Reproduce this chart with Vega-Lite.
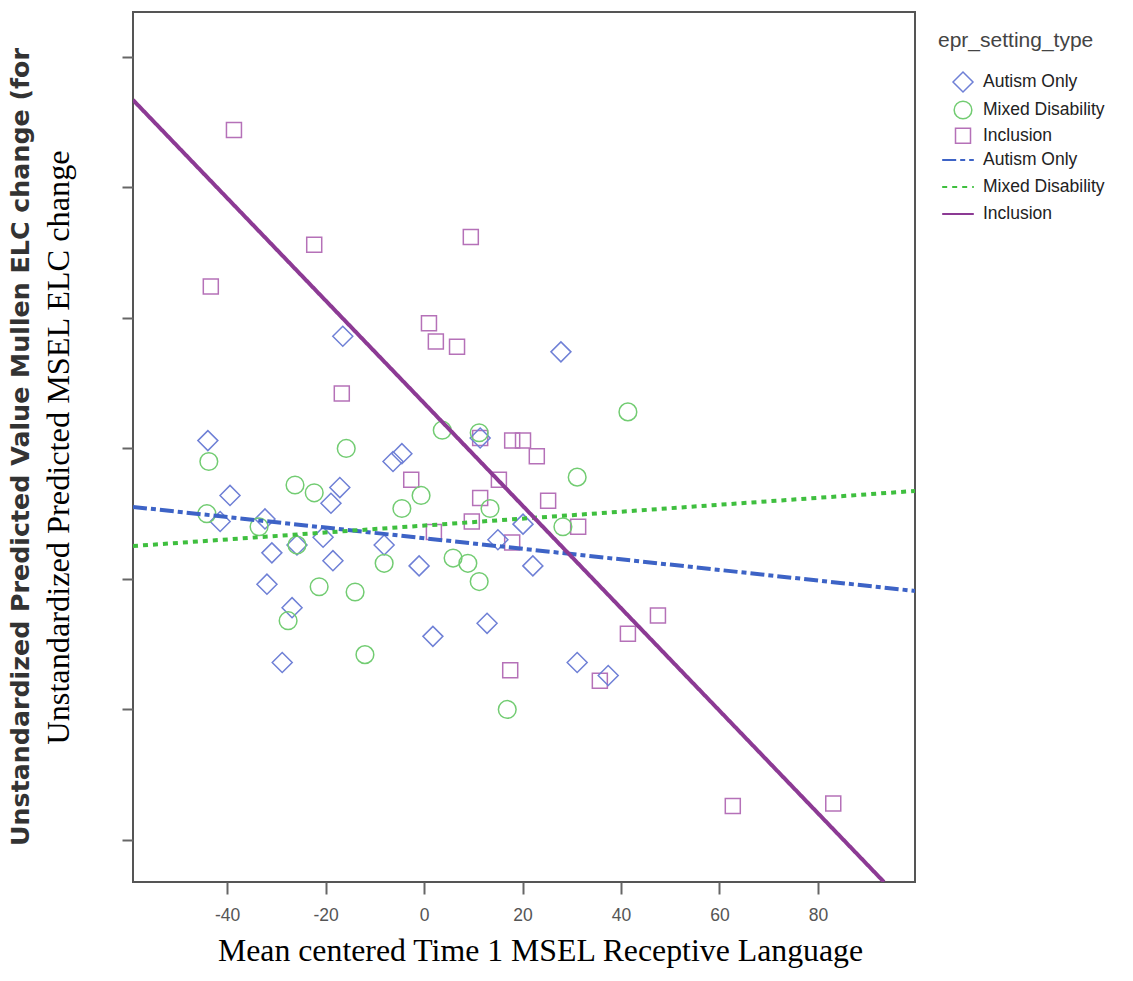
{
  "$schema": "https://vega.github.io/schema/vega-lite/v6.json",
  "width": 782,
  "height": 870,
  "autosize": {"type": "none"},
  "padding": {"left": 133, "top": 12, "right": 218, "bottom": 99},
  "background": "white",
  "title": {
    "text": "Unstandardized Predicted Value Mullen ELC change (for",
    "orient": "left",
    "anchor": "middle",
    "font": "DejaVu Sans",
    "fontWeight": "bold",
    "fontSize": 25.3,
    "color": "#333333",
    "offset": 8
  },
  "config": {
    "view": {"stroke": "#555555", "strokeWidth": 2},
    "legend": {
      "titleFont": "Liberation Sans",
      "titleFontSize": 21,
      "titleFontWeight": "normal",
      "titleColor": "#444444",
      "labelFont": "Liberation Sans",
      "labelFontSize": 17.5,
      "labelColor": "#222222",
      "symbolStrokeWidth": 1.5
    }
  },
  "datasets": {
    "points": [
      {"x": -38.6, "y": 27.2, "setting": "Inclusion"},
      {"x": -22.3, "y": 22.8, "setting": "Inclusion"},
      {"x": -43.3, "y": 21.2, "setting": "Inclusion"},
      {"x": 9.5, "y": 23.1, "setting": "Inclusion"},
      {"x": 1.0, "y": 19.8, "setting": "Inclusion"},
      {"x": 2.4, "y": 19.1, "setting": "Inclusion"},
      {"x": 6.7, "y": 18.9, "setting": "Inclusion"},
      {"x": -16.7, "y": 17.1, "setting": "Inclusion"},
      {"x": 11.4, "y": 15.4, "setting": "Inclusion"},
      {"x": 17.9, "y": 15.3, "setting": "Inclusion"},
      {"x": 20.1, "y": 15.3, "setting": "Inclusion"},
      {"x": 22.9, "y": 14.7, "setting": "Inclusion"},
      {"x": -2.6, "y": 13.8, "setting": "Inclusion"},
      {"x": 15.2, "y": 13.8, "setting": "Inclusion"},
      {"x": 11.4, "y": 13.1, "setting": "Inclusion"},
      {"x": 25.2, "y": 13.0, "setting": "Inclusion"},
      {"x": 9.7, "y": 12.2, "setting": "Inclusion"},
      {"x": 2.0, "y": 11.8, "setting": "Inclusion"},
      {"x": 17.9, "y": 11.4, "setting": "Inclusion"},
      {"x": 31.3, "y": 12.0, "setting": "Inclusion"},
      {"x": 17.5, "y": 6.5, "setting": "Inclusion"},
      {"x": 35.7, "y": 6.1, "setting": "Inclusion"},
      {"x": 41.4, "y": 7.9, "setting": "Inclusion"},
      {"x": 47.5, "y": 8.6, "setting": "Inclusion"},
      {"x": 62.7, "y": 1.3, "setting": "Inclusion"},
      {"x": 83.1, "y": 1.4, "setting": "Inclusion"},
      {"x": -43.9, "y": 15.3, "setting": "Autism Only"},
      {"x": -39.4, "y": 13.2, "setting": "Autism Only"},
      {"x": -41.4, "y": 12.2, "setting": "Autism Only"},
      {"x": -32.3, "y": 12.3, "setting": "Autism Only"},
      {"x": -30.9, "y": 11.0, "setting": "Autism Only"},
      {"x": -31.9, "y": 9.8, "setting": "Autism Only"},
      {"x": -26.8, "y": 8.9, "setting": "Autism Only"},
      {"x": -28.8, "y": 6.8, "setting": "Autism Only"},
      {"x": -16.5, "y": 19.3, "setting": "Autism Only"},
      {"x": -17.1, "y": 13.5, "setting": "Autism Only"},
      {"x": -18.9, "y": 12.9, "setting": "Autism Only"},
      {"x": -25.8, "y": 11.3, "setting": "Autism Only"},
      {"x": -20.5, "y": 11.6, "setting": "Autism Only"},
      {"x": -18.5, "y": 10.7, "setting": "Autism Only"},
      {"x": -6.3, "y": 14.5, "setting": "Autism Only"},
      {"x": -4.5, "y": 14.8, "setting": "Autism Only"},
      {"x": -8.1, "y": 11.3, "setting": "Autism Only"},
      {"x": -1.0, "y": 10.5, "setting": "Autism Only"},
      {"x": 1.8, "y": 7.8, "setting": "Autism Only"},
      {"x": 27.8, "y": 18.7, "setting": "Autism Only"},
      {"x": 11.4, "y": 15.4, "setting": "Autism Only"},
      {"x": 20.1, "y": 12.1, "setting": "Autism Only"},
      {"x": 15.0, "y": 11.5, "setting": "Autism Only"},
      {"x": 22.1, "y": 10.5, "setting": "Autism Only"},
      {"x": 12.8, "y": 8.3, "setting": "Autism Only"},
      {"x": 31.1, "y": 6.8, "setting": "Autism Only"},
      {"x": 37.4, "y": 6.3, "setting": "Autism Only"},
      {"x": -43.7, "y": 14.5, "setting": "Mixed Disability"},
      {"x": -15.8, "y": 15.0, "setting": "Mixed Disability"},
      {"x": -26.2, "y": 13.6, "setting": "Mixed Disability"},
      {"x": -22.3, "y": 13.3, "setting": "Mixed Disability"},
      {"x": -44.1, "y": 12.5, "setting": "Mixed Disability"},
      {"x": -33.5, "y": 12.0, "setting": "Mixed Disability"},
      {"x": -25.8, "y": 11.3, "setting": "Mixed Disability"},
      {"x": -0.6, "y": 13.2, "setting": "Mixed Disability"},
      {"x": -4.5, "y": 12.7, "setting": "Mixed Disability"},
      {"x": -8.1, "y": 10.6, "setting": "Mixed Disability"},
      {"x": -21.3, "y": 9.7, "setting": "Mixed Disability"},
      {"x": -14.0, "y": 9.5, "setting": "Mixed Disability"},
      {"x": -27.6, "y": 8.4, "setting": "Mixed Disability"},
      {"x": -12.0, "y": 7.1, "setting": "Mixed Disability"},
      {"x": 3.7, "y": 15.7, "setting": "Mixed Disability"},
      {"x": 11.2, "y": 15.6, "setting": "Mixed Disability"},
      {"x": 41.4, "y": 16.4, "setting": "Mixed Disability"},
      {"x": 31.1, "y": 13.9, "setting": "Mixed Disability"},
      {"x": 13.4, "y": 12.7, "setting": "Mixed Disability"},
      {"x": 5.9, "y": 10.8, "setting": "Mixed Disability"},
      {"x": 8.9, "y": 10.6, "setting": "Mixed Disability"},
      {"x": 11.2, "y": 9.9, "setting": "Mixed Disability"},
      {"x": 28.2, "y": 12.0, "setting": "Mixed Disability"},
      {"x": 16.9, "y": 5.0, "setting": "Mixed Disability"}
    ],
    "fits": [
      {"x": -59.1, "y": 12.76, "setting": "Autism Only"},
      {"x": 99.7, "y": 9.54, "setting": "Autism Only"},
      {"x": -59.1, "y": 11.26, "setting": "Mixed Disability"},
      {"x": 99.7, "y": 13.37, "setting": "Mixed Disability"},
      {"x": -59.1, "y": 28.35, "setting": "Inclusion"},
      {"x": 93.4, "y": -1.61, "setting": "Inclusion"}
    ]
  },
  "encoding": {
    "x": {
      "field": "x",
      "type": "quantitative",
      "scale": {"domain": [-59.1, 99.7], "nice": false, "zero": false},
      "axis": {
        "values": [-40, -20, 0, 20, 40, 60, 80],
        "labelExpr": "replace(datum.label, '−', '-')",
        "grid": false,
        "domain": false,
        "tickSize": 12,
        "tickWidth": 2,
        "tickColor": "#666666",
        "labelFont": "Liberation Sans",
        "labelFontSize": 17.5,
        "labelColor": "#555555",
        "labelPadding": 12,
        "title": "Mean centered Time 1 MSEL Receptive Language",
        "titleFont": "Liberation Serif",
        "titleFontSize": 31.8,
        "titleFontWeight": "normal",
        "titleColor": "#000000",
        "titlePadding": 12,
        "titleX": 407
      }
    },
    "y": {
      "field": "y",
      "type": "quantitative",
      "scale": {"domain": [-1.61, 31.72], "nice": false, "zero": false},
      "axis": {
        "values": [0, 5, 10, 15, 20, 25, 30],
        "grid": false,
        "domain": false,
        "labels": false,
        "tickSize": 11,
        "tickWidth": 2,
        "tickColor": "#666666",
        "title": "Unstandardized Predicted MSEL ELC change",
        "titleFont": "Liberation Serif",
        "titleFontSize": 32.3,
        "titleFontWeight": "normal",
        "titleColor": "#000000",
        "titlePadding": 46
      }
    }
  },
  "layer": [
    {
      "data": {"name": "points"},
      "mark": {"type": "point", "filled": false, "strokeWidth": 1.5, "opacity": 1},
      "encoding": {
        "shape": {
          "field": "setting",
          "type": "nominal",
          "scale": {"domain": ["Autism Only", "Mixed Disability", "Inclusion"], "range": ["diamond", "circle", "square"]},
          "legend": {"title": "epr_setting_type", "symbolSize": 150, "orient": "none", "legendX": 805, "legendY": 18, "titlePadding": 20, "rowPadding": 3, "symbolOffset": 14, "labelOffset": 9}
        },
        "color": {
          "field": "setting",
          "type": "nominal",
          "scale": {"domain": ["Autism Only", "Mixed Disability", "Inclusion"], "range": ["#6f80d6", "#72cc72", "#b571b8"]},
          "legend": {"title": "epr_setting_type", "symbolSize": 150, "orient": "none", "legendX": 805, "legendY": 18, "titlePadding": 20, "rowPadding": 3, "symbolOffset": 14, "labelOffset": 9}
        },
        "size": {
          "field": "setting",
          "type": "nominal",
          "scale": {"domain": ["Autism Only", "Mixed Disability", "Inclusion"], "range": [400, 225, 225]},
          "legend": null
        }
      }
    },
    {
      "data": {"name": "fits"},
      "mark": {"type": "line", "strokeWidth": 4, "clip": true},
      "encoding": {
        "color": {
          "field": "setting",
          "type": "nominal",
          "scale": {"domain": ["Autism Only", "Mixed Disability", "Inclusion"], "range": ["#3d63c6", "#3fbf3f", "#8c3a94"]},
          "legend": {"title": null, "symbolStrokeWidth": 2, "symbolSize": 1000, "orient": "none", "legendX": 805, "legendY": 131, "rowPadding": 1, "symbolOffset": 3, "labelOffset": 8}
        },
        "strokeDash": {
          "field": "setting",
          "type": "nominal",
          "scale": {"domain": ["Autism Only", "Mixed Disability", "Inclusion"], "range": [[14, 4, 5, 4], [5, 5], [1, 0]]},
          "legend": {"title": null, "symbolStrokeWidth": 2, "symbolSize": 1000, "orient": "none", "legendX": 805, "legendY": 131, "rowPadding": 1, "symbolOffset": 3, "labelOffset": 8}
        }
      }
    }
  ],
  "resolve": {"scale": {"color": "independent", "shape": "independent", "size": "independent", "strokeDash": "independent"}}
}
